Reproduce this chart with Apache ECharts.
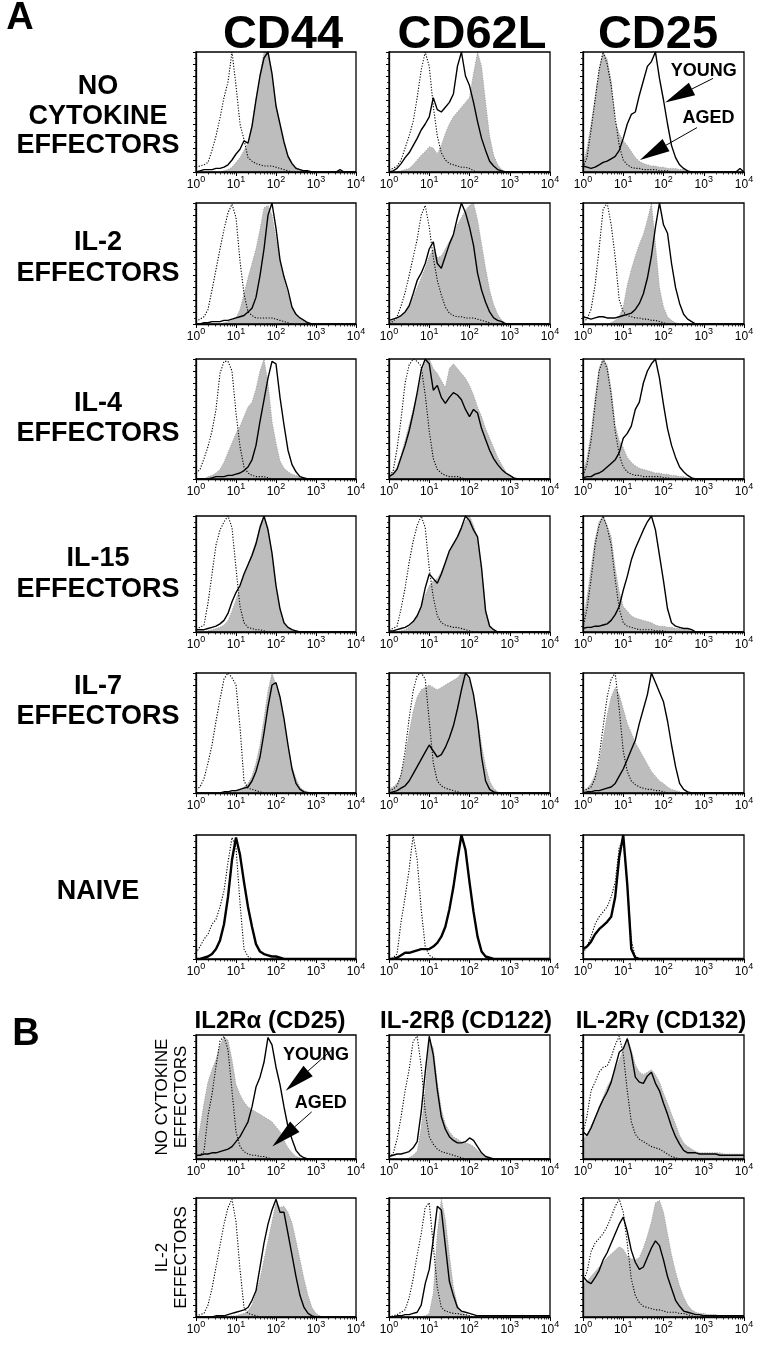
<!DOCTYPE html>
<html><head><meta charset="utf-8">
<script src="https://cdn.jsdelivr.net/npm/echarts@6/dist/echarts.min.js"></script>
<style>html,body{margin:0;padding:0;background:#fff}#c{width:764px;height:1350px}</style>
</head><body><div id="c"></div>
<script>
// fluorescence bins (0.1 decade steps)
const bins = [1,1.259,1.585,1.995,2.512,3.162,3.981,5.012,6.310,7.943,10,12.59,15.85,19.95,25.12,31.62,39.81,50.12,63.10,79.43,100,125.9,158.5,199.5,251.2,316.2,398.1,501.2,631.0,794.3,1000,1259,1585,1995,2512,3162,3981,5012,6310,7943,10000];
const xTickLabels = ['10^0','10^1','10^2','10^3','10^4'];
const colTitlesA = ['CD44','CD62L','CD25'];
const colTitlesB = ['IL2R\u03b1 (CD25)','IL-2R\u03b2 (CD122)','IL-2R\u03b3 (CD132)'];
const rowLabelsA = [['NO','CYTOKINE','EFFECTORS'],['IL-2','EFFECTORS'],['IL-4','EFFECTORS'],['IL-15','EFFECTORS'],['IL-7','EFFECTORS'],['NAIVE']];
const rowLabelsB = [['NO CYTOKINE','EFFECTORS'],['IL-2','EFFECTORS']];

// ---- Row 1: no cytokine effectors
const iso_A1_CD44   = [4,5,6,8,18,30,45,62,75,100, 72,40,27,12,9,7,6,5,5,5, 4,3,2,1,0,0,0,0,0,0, 0,0,0,0,0,0,0,0,0,0,0];
const aged_A1_CD44  = [0,0,0,0,0,0,0,1,2,4, 8,12,18,24,40,62,82,100,100,80, 56,38,24,14,8,4,2,1,0,0, 0,0,0,0,0,0,0,0,0,0,0];
const young_A1_CD44 = [0,1,2,2,2,3,3,4,6,10, 15,19,26,24,38,60,80,95,100,82, 55,40,25,13,7,3,2,1,1,0, 0,0,0,0,0,0,2,0,0,0,0];
const iso_A1_CD62L   = [2,3,5,10,20,30,42,62,85,100, 88,55,30,16,10,7,6,5,4,4, 3,1,0,0,0,0,0,0,0,0, 0,0,0,0,0,0,0,0,0,0,0];
const aged_A1_CD62L  = [0,0,0,1,2,3,6,10,14,17, 21,20,15,22,32,40,46,50,54,58, 62,82,100,88,58,30,14,6,2,0, 0,0,0,0,0,0,0,0,0,0,0];
const young_A1_CD62L = [0,1,3,7,12,16,22,28,35,40, 46,62,52,50,54,58,65,88,100,80, 72,58,42,28,18,9,5,2,1,0, 0,0,0,0,0,0,0,0,0,0,0];
const iso_A1_CD25   = [4,12,35,60,85,100,90,72,45,22, 10,6,4,3,3,2,2,2,2,1, 1,1,0,0,0,0,0,0,0,0, 0,0,0,0,0,0,0,0,0,0,0];
const aged_A1_CD25  = [6,20,40,62,85,100,94,76,42,32, 26,22,17,12,9,7,6,5,5,4, 4,3,3,3,2,2,1,0,0,0, 0,0,0,0,0,0,0,0,0,0,0];
const young_A1_CD25 = [5,4,3,4,6,8,9,11,13,18, 28,40,48,50,64,76,88,92,100,78, 60,40,22,12,6,3,1,0,0,0, 0,0,0,0,0,0,0,0,0,3,0];
// ---- Row 2: IL-2
const iso_A2_CD44   = [2,4,6,12,28,45,62,78,92,99, 88,52,25,10,7,5,5,5,5,5, 4,3,2,1,0,0,0,0,0,0, 0,0,0,0,0,0,0,0,0,0,0];
const aged_A2_CD44  = [0,0,0,0,0,0,0,1,2,3, 5,12,25,38,50,62,78,96,98,90, 70,52,36,24,14,8,4,2,1,0, 0,0,0,0,0,0,0,0,0,0,0];
const young_A2_CD44 = [0,0,1,1,2,2,2,3,3,4, 5,6,7,10,13,22,40,62,90,100, 79,53,39,28,14,8,5,3,1,0, 0,0,0,0,0,0,0,0,0,0,0];
const iso_A2_CD62L   = [1,2,6,15,26,40,55,70,90,98, 80,55,36,24,14,9,7,6,6,5, 5,5,4,3,2,1,0,0,0,0, 0,0,0,0,0,0,0,0,0,0,0];
const aged_A2_CD62L  = [2,3,4,6,10,16,22,30,38,46, 56,62,55,56,62,68,74,82,88,94, 98,100,86,66,46,28,16,8,3,1, 0,0,0,0,0,0,0,0,0,0,0];
const young_A2_CD62L = [3,4,5,7,10,15,25,36,42,50, 62,68,50,46,56,66,74,88,100,92, 80,65,42,28,18,10,5,3,2,0, 0,0,0,0,0,0,0,0,0,0,0];
const iso_A2_CD25   = [2,4,12,32,62,95,100,82,55,20, 10,7,6,5,5,4,4,3,3,2, 1,0,0,0,0,0,0,0,0,0, 0,0,0,0,0,0,0,0,0,0,0];
const aged_A2_CD25  = [0,0,0,0,0,0,0,1,3,6, 14,32,45,56,66,74,86,100,66,30, 14,6,3,1,0,0,0,0,0,0, 0,0,0,0,0,0,0,0,0,0,0];
const young_A2_CD25 = [6,5,4,5,6,6,5,5,5,6, 7,8,9,12,17,25,38,56,80,100, 82,75,50,30,17,8,4,2,0,0, 0,0,0,0,0,0,0,0,0,0,0];
// ---- Row 3: IL-4
const iso_A3_CD44   = [5,8,17,27,40,58,88,98,98,90, 55,27,10,5,3,2,2,2,1,0, 0,0,0,0,0,0,0,0,0,0, 0,0,0,0,0,0,0,0,0,0,0];
const aged_A3_CD44  = [0,0,0,2,3,5,8,14,22,30, 38,44,52,60,64,75,90,100,80,48, 30,15,9,6,4,3,2,1,0,0, 0,0,0,0,0,0,0,0,0,0,0];
const young_A3_CD44 = [0,0,0,0,1,2,2,2,3,3, 4,5,7,10,16,28,48,66,84,98, 96,68,45,24,12,6,2,1,0,0, 0,0,0,0,0,0,0,0,0,0,0];
const iso_A3_CD62L   = [4,6,25,50,80,95,100,98,94,70, 40,17,8,5,3,2,2,2,1,0, 0,0,0,0,0,0,0,0,0,0, 0,0,0,0,0,0,0,0,0,0,0];
const aged_A3_CD62L  = [3,5,10,20,32,45,58,70,85,98, 100,92,88,82,76,92,96,92,88,84, 78,70,60,52,42,34,26,18,12,6, 3,1,0,0,0,0,0,0,0,0,0];
const young_A3_CD62L = [2,4,8,18,28,40,55,72,91,100, 96,74,78,68,63,68,72,70,66,58, 52,58,55,42,33,24,17,12,8,5, 3,1,0,0,0,0,0,0,0,0,0];
const iso_A3_CD25   = [3,12,32,62,90,100,92,70,40,20, 10,6,4,3,3,2,2,2,2,2, 1,1,0,0,0,0,0,0,0,0, 0,0,0,0,0,0,0,0,0,0,0];
const aged_A3_CD25  = [5,18,38,68,92,100,95,75,45,32, 26,18,14,11,9,8,7,6,5,5, 4,4,3,3,2,2,1,0,0,0, 0,0,0,0,0,0,0,0,0,0,0];
const young_A3_CD25 = [1,2,2,4,5,7,10,13,16,22, 34,38,44,58,64,80,90,96,100,84, 62,42,28,18,10,6,3,1,0,0, 0,0,0,0,0,0,0,0,0,0,0];
// ---- Row 4: IL-15
const iso_A4_CD44   = [3,4,6,25,50,75,88,95,100,90, 55,22,8,4,3,2,2,1,0,0, 0,0,0,0,0,0,0,0,0,0, 0,0,0,0,0,0,0,0,0,0,0];
const aged_A4_CD44  = [0,0,0,1,2,3,4,6,10,18, 28,38,48,58,68,78,92,100,90,66, 38,18,8,4,2,1,0,0,0,0, 0,0,0,0,0,0,0,0,0,0,0];
const young_A4_CD44 = [2,2,2,3,4,5,7,10,16,26, 34,40,50,58,66,76,90,100,88,68, 40,20,8,4,2,1,0,0,0,0, 0,0,0,0,0,0,0,0,0,0,0];
const iso_A4_CD62L   = [2,3,5,20,38,60,78,92,100,90, 55,30,14,8,6,5,4,4,3,2, 1,0,0,0,0,0,0,0,0,0, 0,0,0,0,0,0,0,0,0,0,0];
const aged_A4_CD62L  = [0,0,0,1,2,4,8,14,22,32, 40,44,46,52,60,68,75,82,90,96, 100,92,80,55,20,6,2,0,0,0, 0,0,0,0,0,0,0,0,0,0,0];
const young_A4_CD62L = [1,1,2,3,4,6,9,14,22,38, 50,46,42,50,60,70,76,82,90,100, 96,88,82,55,18,5,2,0,0,0, 0,0,0,0,0,0,0,0,0,0,0];
const iso_A4_CD25   = [4,20,45,75,92,100,90,75,45,20, 8,5,4,3,2,2,2,2,1,1, 1,0,0,0,0,0,0,0,0,0, 0,0,0,0,0,0,0,0,0,0,0];
const aged_A4_CD25  = [10,30,55,80,95,100,92,82,55,35, 22,18,14,12,11,10,9,8,6,5, 5,4,4,3,3,2,2,1,0,0, 0,0,0,0,0,0,0,0,0,0,0];
const young_A4_CD25 = [3,4,4,5,5,6,7,10,15,22, 36,48,62,72,80,88,95,100,88,66, 44,20,8,5,4,3,3,2,0,0, 0,0,0,0,0,0,0,0,0,0,0];
// ---- Row 5: IL-7
const iso_A5_CD44   = [3,5,12,25,40,60,78,95,100,96, 90,55,10,4,3,2,1,0,0,0, 0,0,0,0,0,0,0,0,0,0, 0,0,0,0,0,0,0,0,0,0,0];
const aged_A5_CD44  = [0,0,0,0,0,0,0,0,1,1, 2,3,5,8,14,25,40,62,85,100, 90,78,60,40,22,12,5,2,1,0, 0,0,0,0,0,0,0,0,0,0,0];
const young_A5_CD44 = [0,0,0,0,0,0,0,1,1,2, 2,3,4,5,10,18,30,50,72,90, 92,80,62,40,20,8,3,1,0,0, 0,0,0,0,0,0,0,0,0,0,0];
const iso_A5_CD62L   = [2,3,6,15,35,62,85,98,100,95, 60,25,10,6,4,3,2,1,0,0, 0,0,0,0,0,0,0,0,0,0, 0,0,0,0,0,0,0,0,0,0,0];
const aged_A5_CD62L  = [3,5,8,15,30,50,68,80,86,88, 90,88,86,88,90,92,94,96,100,98, 94,80,62,40,22,10,4,1,0,0, 0,0,0,0,0,0,0,0,0,0,0];
const young_A5_CD62L = [0,1,2,4,6,10,16,22,28,34, 40,35,30,32,38,46,56,70,86,100, 96,82,60,30,10,3,1,0,0,0, 0,0,0,0,0,0,0,0,0,0,0];
const iso_A5_CD25   = [2,3,5,12,30,55,80,95,100,70, 35,18,10,7,5,4,3,3,2,2, 1,0,0,0,0,0,0,0,0,0, 0,0,0,0,0,0,0,0,0,0,0];
const aged_A5_CD25  = [2,4,8,15,25,45,65,80,88,82, 70,58,50,42,36,30,24,18,14,10, 8,5,3,2,1,0,0,0,0,0, 0,0,0,0,0,0,0,0,0,0,0];
const young_A5_CD25 = [0,1,1,2,2,3,4,5,8,14, 20,28,36,44,58,70,82,100,92,84, 76,60,40,22,8,3,1,0,0,0, 0,0,0,0,0,0,0,0,0,0,0];
// ---- Row 6: naive
const iso_N_CD44  = [5,10,16,20,28,32,42,55,78,98, 90,45,8,2,0,0,0,0,0,0, 0,0,0,0,0,0,0,0,0,0, 0,0,0,0,0,0,0,0,0,0,0];
const naive_CD44  = [0,0,1,2,4,8,15,28,50,80, 98,84,62,42,26,12,6,4,3,2, 2,1,0,0,0,0,0,0,0,0, 0,0,0,0,0,0,0,0,0,0,0];
const iso_N_CD62L = [0,1,4,30,50,72,100,80,40,10, 3,1,0,0,0,0,0,0,0,0, 0,0,0,0,0,0,0,0,0,0, 0,0,0,0,0,0,0,0,0,0,0];
const naive_CD62L = [0,0,1,3,5,5,6,7,8,8, 8,10,13,18,26,40,58,80,100,88, 62,38,18,6,2,1,0,0,0,0, 0,0,0,0,0,0,0,0,0,0,0];
const iso_N_CD25  = [5,10,18,28,34,38,42,50,62,90, 96,60,15,2,0,0,0,0,0,0, 0,0,0,0,0,0,0,0,0,0, 0,0,0,0,0,0,0,0,0,0,0];
const naive_CD25  = [8,10,14,20,24,27,30,34,50,82, 100,60,8,1,0,0,0,0,0,0, 0,0,0,0,0,0,0,0,0,0, 0,0,0,0,0,0,0,0,0,0,0];
// ---- Panel B row 1: no cytokine
const iso_B1_CD25   = [2,3,6,35,52,75,95,99,88,55, 22,10,6,4,3,3,2,2,1,0, 0,0,0,0,0,0,0,0,0,0, 0,0,0,0,0,0,0,0,0,0,0];
const aged_B1_CD25  = [8,25,45,62,72,80,92,98,96,80, 60,52,46,42,40,38,36,34,32,30, 26,22,15,9,5,2,1,0,0,0, 0,0,0,0,0,0,0,0,0,0,0];
const young_B1_CD25 = [3,3,4,4,5,5,6,7,8,10, 14,18,24,30,42,58,66,78,98,92, 74,60,42,26,16,7,3,1,0,0, 0,0,0,0,0,0,0,0,0,0,0];
const iso_B1_CD122   = [2,4,16,34,55,72,95,99,75,38, 18,12,8,6,5,4,3,2,1,0, 0,0,0,0,0,0,0,0,0,0, 0,0,0,0,0,0,0,0,0,0,0];
const aged_B1_CD122  = [0,0,0,0,0,1,3,6,25,55, 95,90,62,40,28,22,18,16,14,13, 12,10,7,4,2,1,0,0,0,0, 0,0,0,0,0,0,0,0,0,0,0];
const young_B1_CD122 = [2,3,4,4,5,6,9,14,38,70, 99,84,56,34,24,18,15,13,13,14, 17,15,10,5,2,1,0,0,0,0, 0,0,0,0,0,0,0,0,0,0,0];
const iso_B1_CD132   = [20,35,55,62,70,74,75,82,92,99, 85,55,30,20,16,14,12,10,9,8, 6,4,2,1,0,0,0,0,0,0, 0,0,0,0,0,0,0,0,0,0,0];
const aged_B1_CD132  = [15,20,27,33,42,50,58,64,72,80, 88,98,88,76,70,68,70,72,68,62, 53,45,36,28,19,13,10,8,6,5, 5,5,5,5,5,4,4,4,4,4,4];
const young_B1_CD132 = [22,19,25,33,41,48,54,62,74,86, 89,97,85,66,62,61,67,70,61,55, 45,36,26,18,12,7,5,5,5,4, 4,4,4,4,3,3,3,3,3,3,3];
// ---- Panel B row 2: IL-2
const iso_B2_CD25   = [1,2,3,10,24,42,60,78,92,99, 80,40,8,3,2,1,0,0,0,0, 0,0,0,0,0,0,0,0,0,0, 0,0,0,0,0,0,0,0,0,0,0];
const aged_B2_CD25  = [0,0,0,0,0,0,0,0,0,1, 1,2,3,5,10,20,32,48,64,80, 96,92,93,88,79,64,48,32,18,8, 3,1,0,0,0,0,0,0,0,0,0];
const young_B2_CD25 = [0,0,0,0,0,1,1,1,2,3, 4,5,6,8,14,22,42,62,78,90, 99,88,88,70,52,34,18,8,3,1, 0,0,0,0,0,0,0,0,0,0,0];
const iso_B2_CD122   = [0,1,2,4,6,16,32,52,70,92, 96,60,25,8,5,4,3,3,2,2, 1,0,0,0,0,0,0,0,0,0, 0,0,0,0,0,0,0,0,0,0,0];
const aged_B2_CD122  = [0,0,0,0,0,0,0,0,0,1, 3,20,70,99,82,52,25,10,4,2, 1,0,0,0,0,0,0,0,0,0, 0,0,0,0,0,0,0,0,0,0,0];
const young_B2_CD122 = [0,0,1,1,2,2,3,4,10,28, 40,65,93,90,60,30,18,8,5,4, 3,2,1,1,1,1,1,1,1,1, 1,1,1,1,1,1,1,1,1,1,1];
const iso_B2_CD132   = [30,38,55,62,66,70,76,84,93,99, 88,62,32,18,12,9,8,7,6,6, 5,4,4,4,3,3,2,1,0,0, 0,0,0,0,0,0,0,0,0,0,0];
const aged_B2_CD132  = [28,30,34,38,42,46,50,53,56,59, 57,51,49,48,50,58,68,80,96,98, 88,70,52,38,26,17,10,6,4,3, 3,2,2,2,1,1,1,1,1,1,1];
const young_B2_CD132 = [34,30,28,33,39,48,54,62,70,78, 84,72,56,46,40,42,50,58,64,60, 48,34,24,14,9,5,4,3,2,2, 1,1,1,1,1,1,1,1,1,1,1];

// annotation arrows: [startX, startY, tipX, tipY] in data units
const arrowsA = [[1700,78,110,58],[680,37,26,10]];
const arrowsB = [[2500,88,174,55],[780,38,81,10]];

// ---------------- layout ----------------
const FONT = '"Liberation Sans", Arial, Helvetica, sans-serif';
const colLeft = [196, 389, 583];
const colWidth = [160, 161, 161];
const boxes = [[52,120],[203,121],[359,120],[516,116],[673,120],[835,124],[1035,124],[1198,119]];

const panels = [
  {r:0,c:0,iso:iso_A1_CD44,aged:aged_A1_CD44,young:young_A1_CD44},
  {r:0,c:1,iso:iso_A1_CD62L,aged:aged_A1_CD62L,young:young_A1_CD62L},
  {r:0,c:2,iso:iso_A1_CD25,aged:aged_A1_CD25,young:young_A1_CD25,arrows:arrowsA},
  {r:1,c:0,iso:iso_A2_CD44,aged:aged_A2_CD44,young:young_A2_CD44},
  {r:1,c:1,iso:iso_A2_CD62L,aged:aged_A2_CD62L,young:young_A2_CD62L},
  {r:1,c:2,iso:iso_A2_CD25,aged:aged_A2_CD25,young:young_A2_CD25},
  {r:2,c:0,iso:iso_A3_CD44,aged:aged_A3_CD44,young:young_A3_CD44},
  {r:2,c:1,iso:iso_A3_CD62L,aged:aged_A3_CD62L,young:young_A3_CD62L},
  {r:2,c:2,iso:iso_A3_CD25,aged:aged_A3_CD25,young:young_A3_CD25},
  {r:3,c:0,iso:iso_A4_CD44,aged:aged_A4_CD44,young:young_A4_CD44},
  {r:3,c:1,iso:iso_A4_CD62L,aged:aged_A4_CD62L,young:young_A4_CD62L},
  {r:3,c:2,iso:iso_A4_CD25,aged:aged_A4_CD25,young:young_A4_CD25},
  {r:4,c:0,iso:iso_A5_CD44,aged:aged_A5_CD44,young:young_A5_CD44},
  {r:4,c:1,iso:iso_A5_CD62L,aged:aged_A5_CD62L,young:young_A5_CD62L},
  {r:4,c:2,iso:iso_A5_CD25,aged:aged_A5_CD25,young:young_A5_CD25},
  {r:5,c:0,iso:iso_N_CD44,naive:naive_CD44},
  {r:5,c:1,iso:iso_N_CD62L,naive:naive_CD62L},
  {r:5,c:2,iso:iso_N_CD25,naive:naive_CD25},
  {r:6,c:0,iso:iso_B1_CD25,aged:aged_B1_CD25,young:young_B1_CD25,arrows:arrowsB},
  {r:6,c:1,iso:iso_B1_CD122,aged:aged_B1_CD122,young:young_B1_CD122},
  {r:6,c:2,iso:iso_B1_CD132,aged:aged_B1_CD132,young:young_B1_CD132},
  {r:7,c:0,iso:iso_B2_CD25,aged:aged_B2_CD25,young:young_B2_CD25},
  {r:7,c:1,iso:iso_B2_CD122,aged:aged_B2_CD122,young:young_B2_CD122},
  {r:7,c:2,iso:iso_B2_CD132,aged:aged_B2_CD132,young:young_B2_CD132}
];

const toData = arr => bins.map((b, i) => [b, arr[i]]);
const grids = [], xAxes = [], yAxes = [], series = [], graphics = [];

function arrowRender(params, api) {
  const p1 = api.coord([api.value(0), api.value(1)]);
  const p2 = api.coord([api.value(2), api.value(3)]);
  const dx = p2[0] - p1[0], dy = p2[1] - p1[1];
  const len = Math.hypot(dx, dy) || 1;
  const ux = dx / len, uy = dy / len;
  const L = 30, W = 14;
  const bx = p2[0] - ux * L, by = p2[1] - uy * L;
  const px = -uy, py = ux;
  return {type: 'group', children: [
    {type: 'line', shape: {x1: p1[0], y1: p1[1], x2: bx, y2: by}, style: {stroke: '#000', lineWidth: 1}},
    {type: 'polygon', shape: {points: [[p2[0], p2[1]], [bx + px * W / 2, by + py * W / 2], [bx - px * W / 2, by - py * W / 2]]}, style: {fill: '#000'}}
  ]};
}

function txt(text, x, y, font, rot) {
  return {type: 'text', x, y, rotation: rot || 0, z: 20, silent: true,
    style: {text, font, fill: '#000', textAlign: 'center', textVerticalAlign: 'middle', align: 'center', verticalAlign: 'middle'}};
}

panels.forEach((p, k) => {
  const top = boxes[p.r][0], h = boxes[p.r][1];
  const left = colLeft[p.c], w = colWidth[p.c];
  grids.push({left, top, width: w, height: h, show: true, borderColor: '#000', borderWidth: 1.3,
    backgroundColor: 'rgba(0,0,0,0)', z: 10});
  xAxes.push({type: 'log', logBase: 10, min: 1, max: 10000, gridIndex: k, z: 10,
    axisLine: {show: true, onZero: false, lineStyle: {color: '#000', width: 1.3}},
    axisTick: {show: true, inside: false, length: 4, lineStyle: {color: '#000', width: 1}},
    minorTick: {show: true, splitNumber: 9, length: 2.5, lineStyle: {color: '#000', width: 0.8}},
    splitLine: {show: false}, minorSplitLine: {show: false},
    axisLabel: {show: true, margin: 3, showMinLabel: true, showMaxLabel: true, hideOverlap: false,
      formatter: v => {
        const e = Math.round(Math.log10(v));
        const lab = xTickLabels[e] || '';
        const parts = lab.split('^');
        return '{a|' + parts[0] + '}{b|' + parts[1] + '}';
      },
      rich: {
        a: {fontSize: 12, fontFamily: FONT, color: '#000', lineHeight: 16, verticalAlign: 'bottom'},
        b: {fontSize: 9, fontFamily: FONT, color: '#000', lineHeight: 9, verticalAlign: 'top'}
      }}
  });
  yAxes.push({type: 'value', min: 0, max: 100, interval: 10, gridIndex: k, z: 10,
    axisLine: {show: true, lineStyle: {color: '#000', width: 1.3}},
    axisTick: {show: true, inside: false, length: 3, lineStyle: {color: '#000', width: 1}},
    minorTick: {show: true, splitNumber: 2, length: 2, lineStyle: {color: '#000', width: 0.8}},
    axisLabel: {show: false}, splitLine: {show: false}});
  const common = {xAxisIndex: k, yAxisIndex: k, symbol: 'none', silent: true, animation: false, clip: true, smooth: false};
  if (p.aged) series.push(Object.assign({type: 'line', data: toData(p.aged), z: 2,
    lineStyle: {color: '#8f8f8f', width: 0.8, type: [1, 1.5]},
    areaStyle: {color: '#bdbdbd', opacity: 1}}, common));
  if (p.iso) series.push(Object.assign({type: 'line', data: toData(p.iso), z: 3,
    lineStyle: {color: '#000', width: 1.1, type: [1.2, 1.6]}}, common));
  if (p.young) series.push(Object.assign({type: 'line', data: toData(p.young), z: 4,
    lineStyle: {color: '#000', width: 1.4}}, common));
  if (p.naive) series.push(Object.assign({type: 'line', data: toData(p.naive), z: 4,
    lineStyle: {color: '#000', width: 2.4}}, common));
  if (p.arrows) {
    series.push({type: 'custom', xAxisIndex: k, yAxisIndex: k, data: p.arrows, z: 6, silent: true,
      animation: false, clip: false, renderItem: arrowRender, encode: {x: [0, 2], y: [1, 3]}});
    graphics.push(txt('YOUNG', left + w * 0.75, top + h * 0.16, 'bold 18px ' + FONT));
    graphics.push(txt('AGED', left + w * 0.78, top + h * 0.55, 'bold 18px ' + FONT));
  }
});

// panel letters
graphics.push(txt('A', 20, 19, 'bold 38px ' + FONT));
graphics.push(txt('B', 26, 1035, 'bold 38px ' + FONT));
// column titles
const titleX = [283, 472, 658];
colTitlesA.forEach((t, i) => graphics.push(txt(t, titleX[i], 35, 'bold 47px ' + FONT)));
const titleBX = [270, 466, 661];
colTitlesB.forEach((t, i) => graphics.push(txt(t, titleBX[i], 1021, 'bold 24px ' + FONT)));
// row labels A
const rowLabelYA = [[87,117,146],[243,274],[404,434],[559,590],[687,717],[892]];
rowLabelsA.forEach((lines, r) => lines.forEach((t, j) => graphics.push(txt(t, 98, rowLabelYA[r][j], 'bold 27px ' + FONT))));
// row labels B (rotated)
const rowLabelXB = [162, 181];
rowLabelsB.forEach((lines, r) => {
  const cy = boxes[6 + r][0] + boxes[6 + r][1] / 2;
  lines.forEach((t, j) => graphics.push(txt(t, rowLabelXB[j], cy, '17px ' + FONT, Math.PI / 2)));
});

const chart = echarts.init(document.getElementById('c'), null, {renderer: 'canvas', width: 764, height: 1350});
chart.setOption({
  backgroundColor: '#fff',
  animation: false,
  grid: grids, xAxis: xAxes, yAxis: yAxes, series,
  graphic: {elements: graphics}
});
</script></body></html>
